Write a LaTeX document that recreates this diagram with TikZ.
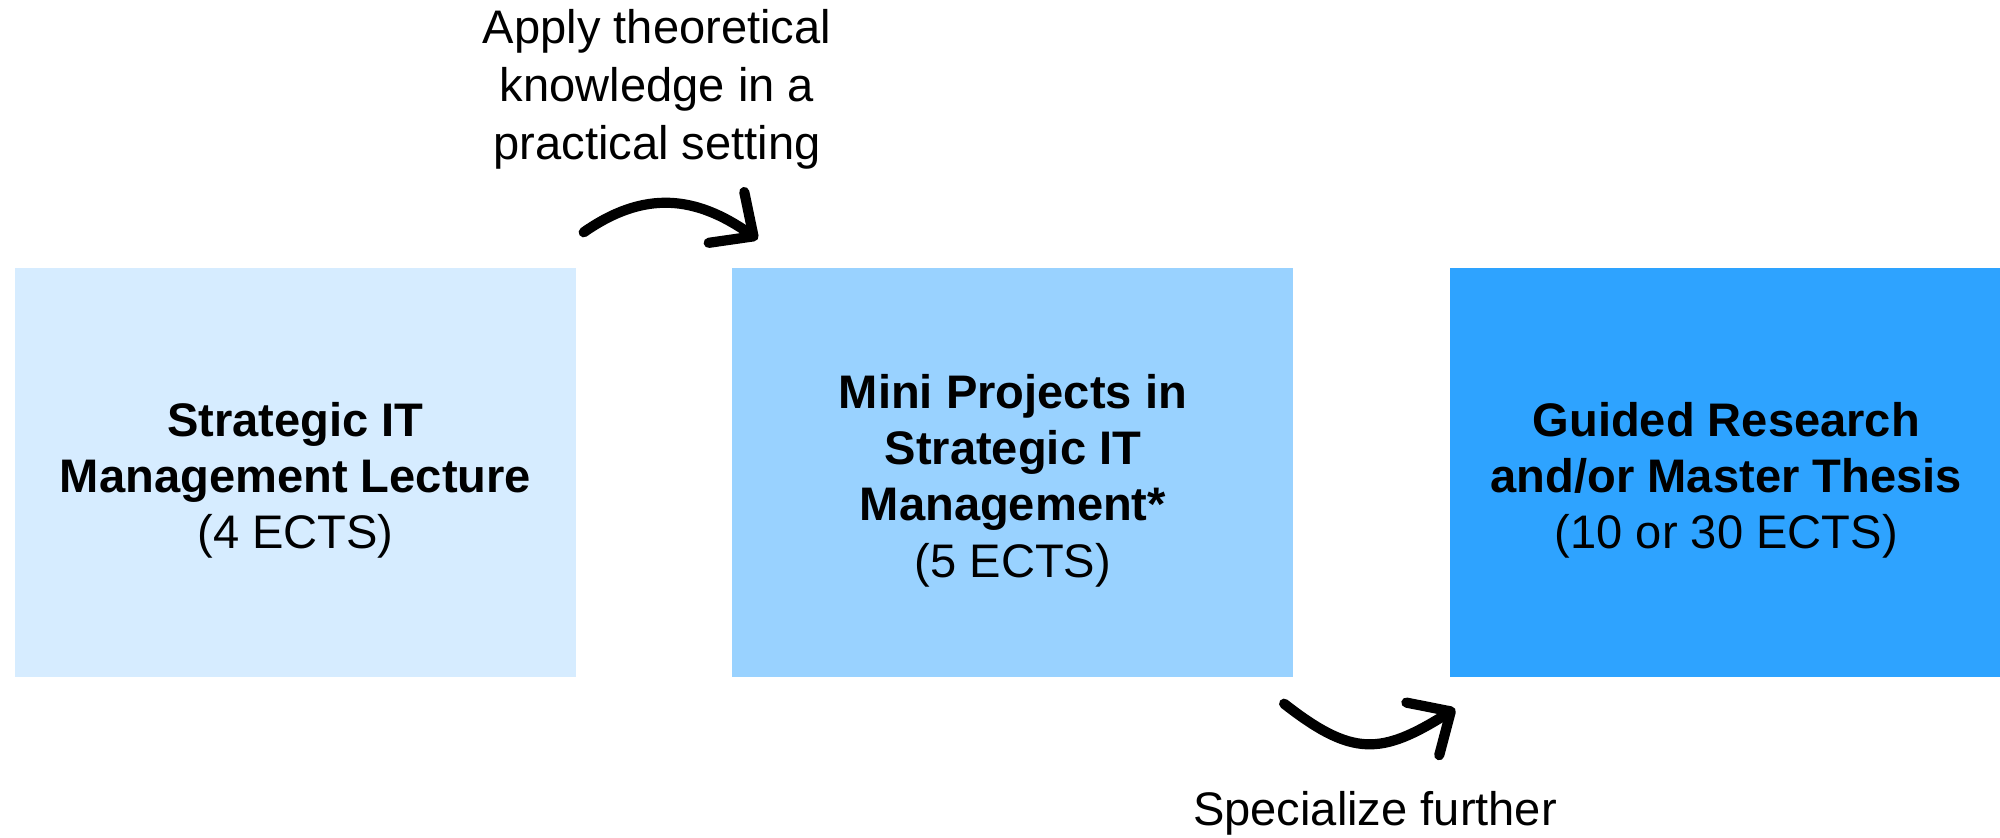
\documentclass[tikz,border=0pt]{standalone}
\usepackage{fontspec}
\setmainfont{Liberation Sans}
\usetikzlibrary{calc, positioning, arrows.meta}
\definecolor{lightblue}{RGB}{214, 236, 255}
\definecolor{midblue}{RGB}{153, 210, 255}
\definecolor{deepblue}{RGB}{46, 163, 255}

\begin{document}
\begin{tikzpicture}[
    box/.style = {inner sep = 0pt, minimum height = 40.9mm, minimum width = 56.1mm},
    boxtxt/.style = {inner sep = 0pt, align = center, font = \fontsize{13.4}{16}\selectfont},
    lbl/.style = {inner sep = 0pt, align = center, font = \fontsize{13.4}{16.5}\selectfont},
    curvy/.style = {line width = 2.9pt, line cap = round, -{Straight Barb[round, length = 3.3mm, width = 6.2mm]}},
    node distance = 15.5mm,
]
\useasboundingbox (0,0) rectangle (20,-8.38);

\node[box, fill = lightblue] (lecture) at (2.955,-4.725) {};
\node[box, fill = midblue, right = of lecture] (mini) {};
\node[box, fill = deepblue, minimum width = 55.3mm, right = of mini] (thesis) {};

% box texts, slightly below the centre
\node[boxtxt] (lecturetxt) at ($(lecture.center)+(0,-0.08)$) {\textbf{Strategic IT}\\ \textbf{Management Lecture}\\ (4 ECTS)};
\node[boxtxt] (minitxt) at ($(mini.center)+(0,-0.08)$) {\textbf{Mini Projects in}\\ \textbf{Strategic IT}\\ \textbf{Management*}\\ (5 ECTS)};
\node[boxtxt] (thesistxt) at ($(thesis.center)+(0,-0.08)$) {\textbf{Guided Research}\\ \textbf{and/or Master Thesis}\\ (10 or 30 ECTS)};

% curved arrows between the boxes
\coordinate (a1) at ($(lecture.north east)+(0.07,0.35)$);
\coordinate (a2) at ($(mini.north west)+(0.26,0.28)$);
\draw[curvy] (a1) to[out=35, in=145, looseness=1.1] (a2);

\coordinate (b1) at ($(mini.south east)+(-0.10,-0.26)$);
\coordinate (b2) at ($(thesis.south west)+(0.06,-0.31)$);
\draw[curvy] (b1) to[out=-38, in=-148, looseness=1.3] (b2);

\node[lbl] (apply) at (6.57,-0.895) {Apply theoretical\\ knowledge in a\\ practical setting};
\node[lbl] (special) at (13.75,-8.13) {Specialize further};

\end{tikzpicture}
\end{document}
